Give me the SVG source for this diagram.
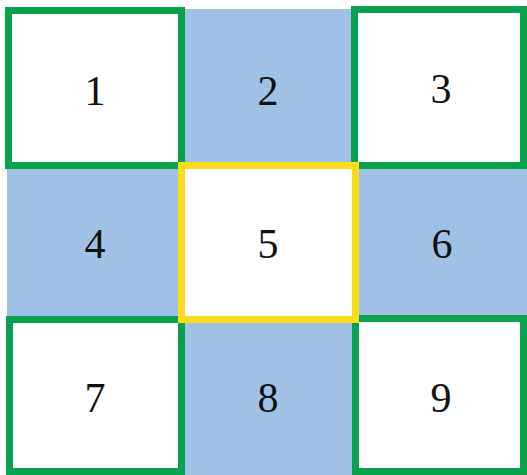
<svg xmlns="http://www.w3.org/2000/svg" width="527" height="475" viewBox="0 0 527 475">
<style>
.bg{fill:#9ec1e5}
.g{fill:#ffffff;stroke:#08a24f;stroke-width:7}
.y{fill:#ffffff;stroke:#fbdc1c;stroke-width:7}
.t{font-family:"Liberation Serif","Times New Roman",serif;font-size:42px;fill:#111111;text-anchor:middle}
</style>
<rect width="527" height="475" fill="#ffffff"/>
<rect class="bg" x="7" y="9" width="520" height="466"/>
<g id="connectors"></g>
<g id="node1"><rect class="g" x="8.5" y="10.5" width="173" height="155"/><text class="t" x="95" y="105">1</text></g>
<g id="node2"><text class="t" x="268" y="105">2</text></g>
<g id="node3"><rect class="g" x="354.5" y="9.5" width="169" height="156"/><text class="t" x="441" y="103">3</text></g>
<g id="node4"><text class="t" x="95" y="258">4</text></g>
<g id="node6"><text class="t" x="442" y="258">6</text></g>
<g id="node7"><rect class="g" x="9.5" y="319.5" width="172" height="152"/><text class="t" x="95" y="412">7</text></g>
<g id="node8"><text class="t" x="268" y="412">8</text></g>
<g id="node9"><rect class="g" x="355.5" y="318.5" width="168" height="153"/><text class="t" x="441" y="412">9</text></g>
<g id="node5"><rect class="y" x="181.5" y="165.5" width="174" height="154"/><text class="t" x="268" y="258">5</text></g>
</svg>
